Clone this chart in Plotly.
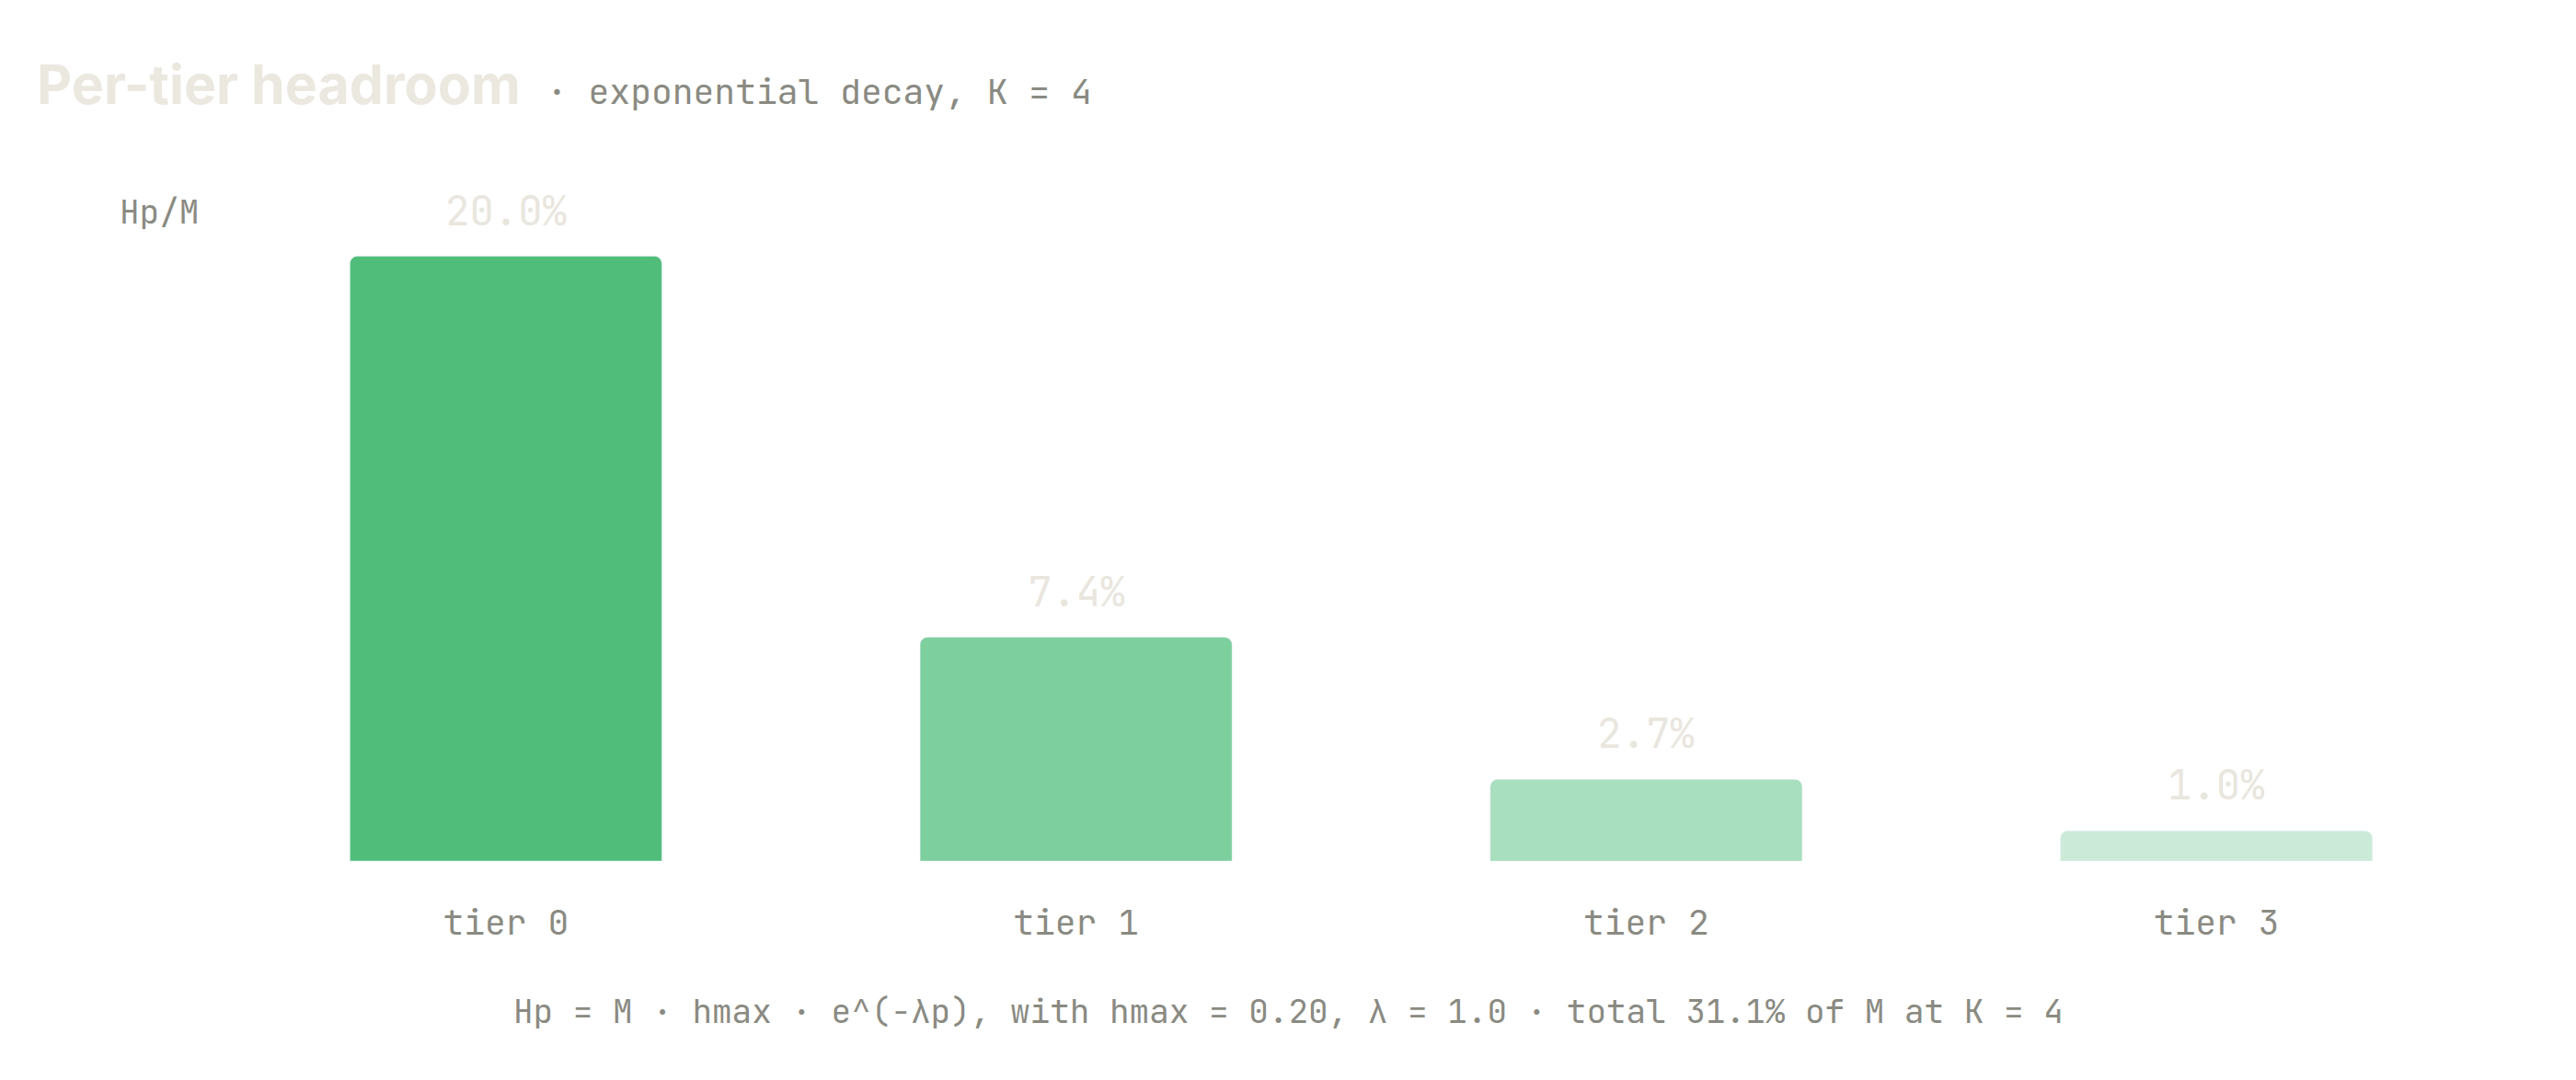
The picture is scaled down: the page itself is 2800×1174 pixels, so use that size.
import plotly.graph_objects as go

tiers = ["tier 0", "tier 1", "tier 2", "tier 3"]
headroom = [20.0, 7.4, 2.7, 1.0]  # Hp / M, in percent
bar_colors = ["#50be7a", "#7dcf9e", "#a8dfbe", "#cbebd8"]

title = "Per-tier headroom"
subtitle = "· exponential decay, K = 4"
y_label = "Hp/M"
footnote = "Hp = M · hmax · e^(-λp), with hmax = 0.20, λ = 1.0 · total 31.1% of M at K = 4"

# the page body has an 8px margin, so the figure is a bit smaller and shifted
W, H = 2784, 1158
L, R, T, B = 232, 73, 139, 230
MONO = "JetBrains Mono, DejaVu Sans Mono, monospace"
GREY = "#8a8a82"
PALE = "#e9e6de"

fig = go.Figure()
fig.add_trace(go.Bar(x=tiers, y=headroom, marker_color=bar_colors, width=0.547,
                     hoverinfo="skip", showlegend=False))

# value labels above each bar
for t, v in zip(tiers, headroom):
    fig.add_annotation(x=t, y=v, text=f"{v:.1f}%", showarrow=False, yanchor="middle",
                       yshift=50, font=dict(family=MONO, size=44, color=PALE))

pw = W - L - R
ph = H - T - B
fig.add_annotation(xref="paper", yref="paper", x=(120 - L) / pw, y=(H - B - 222) / ph,
                   xanchor="left", yanchor="middle", text=y_label, showarrow=False,
                   font=dict(family=MONO, size=36, color=GREY))
fig.add_annotation(xref="paper", yref="paper", x=(1392 - L) / pw, y=(H - B - 1091) / ph,
                   xanchor="center", yanchor="middle", text=footnote, showarrow=False,
                   font=dict(family=MONO, size=36, color=GREY))

fig.update_layout(
    width=W, height=H,
    margin=dict(l=L, r=R, t=T, b=B),
    paper_bgcolor="white", plot_bgcolor="white",
    barcornerradius=8,
    title=dict(
        text=f"<b>{title}</b>\u200a<span style='font-family:{MONO};font-size:38px;color:{GREY};font-weight:normal'> {subtitle}</span>",
        x=32 / W, xanchor="left", xref="container",
        y=1 - 84 / H, yanchor="middle", yref="container",
        font=dict(family="Inter, Noto Sans, sans-serif", size=59, color="#ebe8e0"),
    ),
    xaxis=dict(showgrid=False, zeroline=False, showline=False, ticks="",
               ticklabelstandoff=41, automargin=False,
               tickfont=dict(family=MONO, size=38, color=GREY)),
    yaxis=dict(visible=False, range=[0, 24], automargin=False),
)

fig.write_html("out.html")
